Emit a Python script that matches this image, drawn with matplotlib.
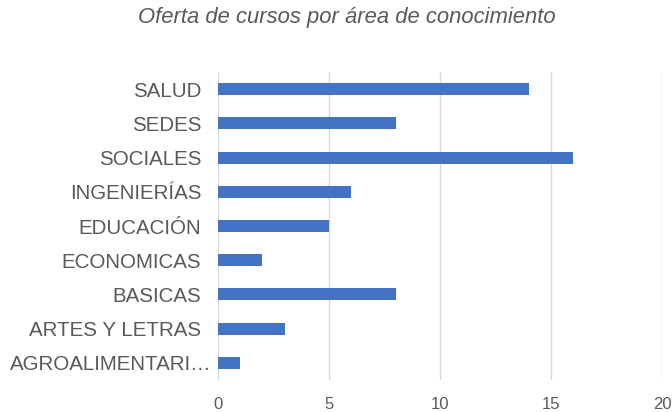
import matplotlib
matplotlib.use("Agg")
import matplotlib.pyplot as plt
import matplotlib.transforms as mtransforms

categories = ["SALUD", "SEDES", "SOCIALES", "INGENIERÍAS", "EDUCACIÓN",
              "ECONOMICAS", "BASICAS", "ARTES Y LETRAS", "AGROALIMENTARI…"]
values = [14, 8, 16, 6, 5, 2, 8, 3, 1]
xticks = [0, 5, 10, 15, 20]

plt.rcParams['font.family'] = ['Liberation Sans', 'DejaVu Sans']

fig = plt.figure(figsize=(6.72, 4.12), dpi=100)
ax = fig.add_axes([218/672, 1-380/412, (662-218)/672, (380-72)/412])

n = len(categories)
ypos = list(range(n))[::-1]
ax.barh(ypos, values, height=0.35, color="#4472C4", zorder=3)
ax.set_ylim(-0.5, n-0.5)
ax.set_xlim(0, 20)
ax.set_xticks(xticks)
ax.set_xticklabels([str(t) for t in xticks])
ax.set_yticks(ypos)
ax.set_yticklabels(categories)
ax.grid(axis='x', color="#D9D9D9", linewidth=1, zorder=0)
for s in ax.spines.values():
    s.set_visible(False)
ax.tick_params(axis='both', length=0, colors="#595959")
ax.tick_params(axis='y', labelsize=14.8, pad=12)
ax.tick_params(axis='x', labelsize=12, pad=12)

# truncated last label overhangs towards the axis
last = ax.get_yticklabels()[-1]
last.set_transform(last.get_transform() + mtransforms.ScaledTranslation(10/100, 0, fig.dpi_scale_trans))

fig.text(347/672, 1-17/412, "Oferta de cursos por área de conocimiento",
         ha='center', va='center', fontsize=15.8, style='italic', color="#595959")

fig.savefig("out.png", dpi=100)
